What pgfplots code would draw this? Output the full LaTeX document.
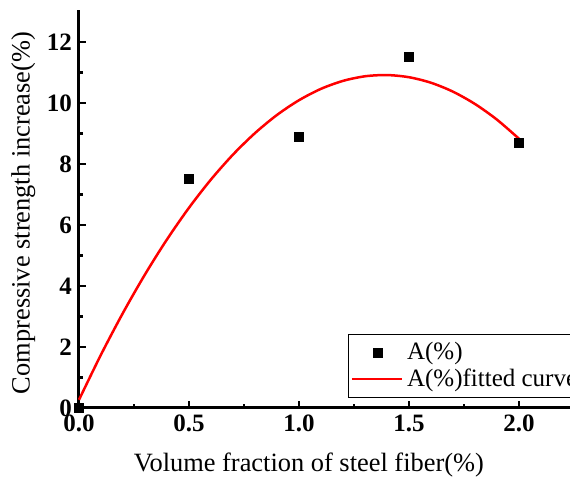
\documentclass[border=0pt]{standalone}
\usepackage{fontspec}
\setmainfont{Liberation Serif}
\usepackage{pgfplots}
\pgfplotsset{compat=1.18}

\newcommand{\chfont}{\fontsize{12.5}{15}\selectfont}
\newcommand{\lbfont}{\fontsize{13.2}{16}\selectfont}

\begin{document}
\begin{tikzpicture}
\begin{axis}[
  at={(0,0)}, anchor=south west,
  x=110pt, y=15.25pt,
  xmin=0, xmax=2.235, ymin=0, ymax=13.05,
  axis lines=left,
  axis line style={-, line width=1.5pt},
  clip=false,
  xtick={0,0.5,1,1.5,2}, minor xtick={0.25,0.75,1.25,1.75},
  ytick={0,2,4,6,8,10,12}, minor ytick={1,3,5,7,9,11},
  tick align=inside,
  major tick length=3.5pt, minor tick length=2pt,
  every tick/.style={black, line width=1.2pt},
  /pgf/number format/assume math mode=true,
  xticklabel style={font=\chfont\bfseries, /pgf/number format/.cd, fixed, fixed zerofill, precision=1},
  yticklabel style={font=\chfont\bfseries},
  xlabel={Volume fraction of steel fiber(\%)},
  ylabel={Compressive strength increase(\%)},
  xlabel style={font=\lbfont, at={(axis cs:1.045,0)}, anchor=north, yshift=-19pt},
  ylabel style={font=\lbfont, at={(axis description cs:-0.152,0.49)}, anchor=north, rotate=0},
  legend style={at={(axis cs:1.223,0.33)}, anchor=south west, draw=black, line width=0.5pt,
    font=\chfont, row sep=-1pt, inner xsep=1pt, inner ysep=2pt, cells={anchor=west,yshift=-1.5pt}},
]
\addplot[only marks, mark=square*, mark size=2.25pt, black,
  legend image code/.code={\path[only marks] plot coordinates {(13pt,0pt)};}]
  coordinates {(0,0) (0.5,7.5) (1.0,8.9) (1.5,11.5) (2.0,8.7)};
\addlegendentry{A(\%)}
\addplot[red, line width=1.25pt, smooth, no marks,
  legend image code/.code={\draw[red, line width=1.25pt] (0pt,0pt) -- (25pt,0pt);}]
  coordinates {
  (0.0,0.268) (0.1,1.749) (0.2,3.119) (0.3,4.379) (0.4,5.528)
  (0.5,6.565) (0.6,7.492) (0.7,8.308) (0.8,9.013) (0.9,9.608)
  (1.0,10.091) (1.1,10.464) (1.2,10.725) (1.3,10.876) (1.4,10.916)
  (1.5,10.845) (1.6,10.664) (1.7,10.371) (1.8,9.967) (1.9,9.453)
  (2.0,8.828)};
\addlegendentry{A(\%)fitted curve}
\end{axis}
\pgfresetboundingbox
\useasboundingbox (-39.5pt,-34.5pt) rectangle (245.5pt,204pt);
\end{tikzpicture}
\end{document}
